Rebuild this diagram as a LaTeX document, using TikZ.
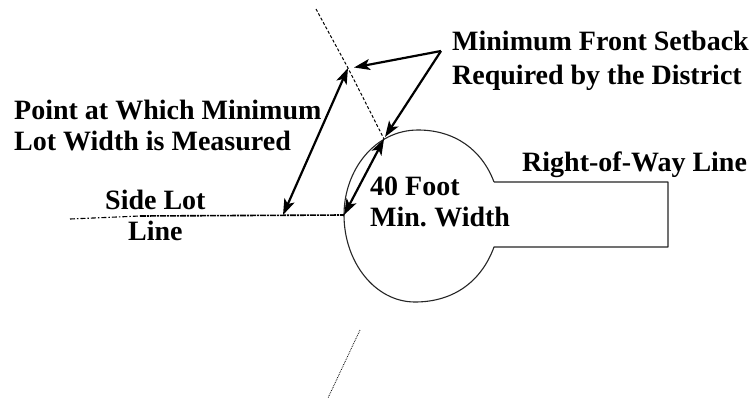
\documentclass[tikz,border=0pt]{standalone}
\usepackage{fontspec}
\setmainfont{Liberation Serif}
\usetikzlibrary{arrows.meta}
\tikzset{
 lbl/.style={inner sep=0pt,font=\fontsize{28}{32}\selectfont\bfseries,align=left,anchor=base west},
 arw/.style={line width=2.2pt,{Stealth[length=16pt,width=11pt,inset=4pt]}-{Stealth[length=16pt,width=11pt,inset=4pt]}},
 arwone/.style={line width=2.2pt,-{Stealth[length=16pt,width=11pt,inset=4pt]}},
 cline/.style={line width=1pt,densely dashed},
 lot/.style={line width=1.1pt,black!85},
}
\begin{document}
\begin{tikzpicture}[x=1pt,y=-1pt]
\useasboundingbox (0,0) rectangle (751,404);
\fill[white] (0,0) rectangle (751,404);
% named points
\coordinate (ctop) at (316,9);
\coordinate (setA) at (348,68);
\coordinate (setB) at (384,139);
\coordinate (cbotA) at (360,330);
\coordinate (cbotB) at (328,398);
\coordinate (sideL) at (70,219);
\coordinate (sideK) at (140,216);
\coordinate (sideM) at (283,215);
\coordinate (sideR) at (344,215);
\coordinate (apex) at (441,51);
\coordinate (neckT) at (494,182);
\coordinate (neckB) at (494,247);
\coordinate (endT) at (668,182);
\coordinate (endB) at (668,247);
% lot outline
\draw[lot,line join=round] (neckT) .. controls (482,150) and (455,130) .. (418,130)
 .. controls (375,130) and (344,170) .. (sideR)
 .. controls (344,262) and (375,302) .. (415,302)
 .. controls (455,302) and (482,280) .. (neckB)
 -- (endB) -- (endT) -- (neckT);
% centre lines
\draw[cline] (ctop) -- (setA) -- (setB);
\draw[line width=.8pt,densely dotted] (cbotA) -- (cbotB);
\draw[line width=1.1pt,dash pattern=on 5pt off 2pt on 1.5pt off 2pt] (sideL) -- (sideK);
\draw[line width=1.6pt,dash pattern=on 6pt off 1pt on 2pt off 1pt] (sideK) -- (sideR);
% arrows
\draw[arw] (setA) -- (sideM);
\draw[arw] (setB) -- (sideR);
\draw[arwone] (apex) -- (354,67.5);
\draw[arwone] (apex) -- (385,137);
% labels
\node[lbl] (t1) at (452,50) {Minimum Front Setback};
\node[lbl] (t2) at (452,84) {Required by the District};
\node[lbl] (t3) at (14,119) {Point at Which Minimum};
\node[lbl] (t4) at (14,150) {Lot Width is Measured};
\node[lbl] (t5) at (105,209) {Side Lot};
\node[lbl] (t6) at (128,240) {Line};
\node[lbl] (t7) at (370,195) {40 Foot};
\node[lbl] (t8) at (370,226) {Min.\hspace{-2pt} Width};
\node[lbl] (t9) at (522,171) {Right-of-Way Line};
\end{tikzpicture}
\end{document}
